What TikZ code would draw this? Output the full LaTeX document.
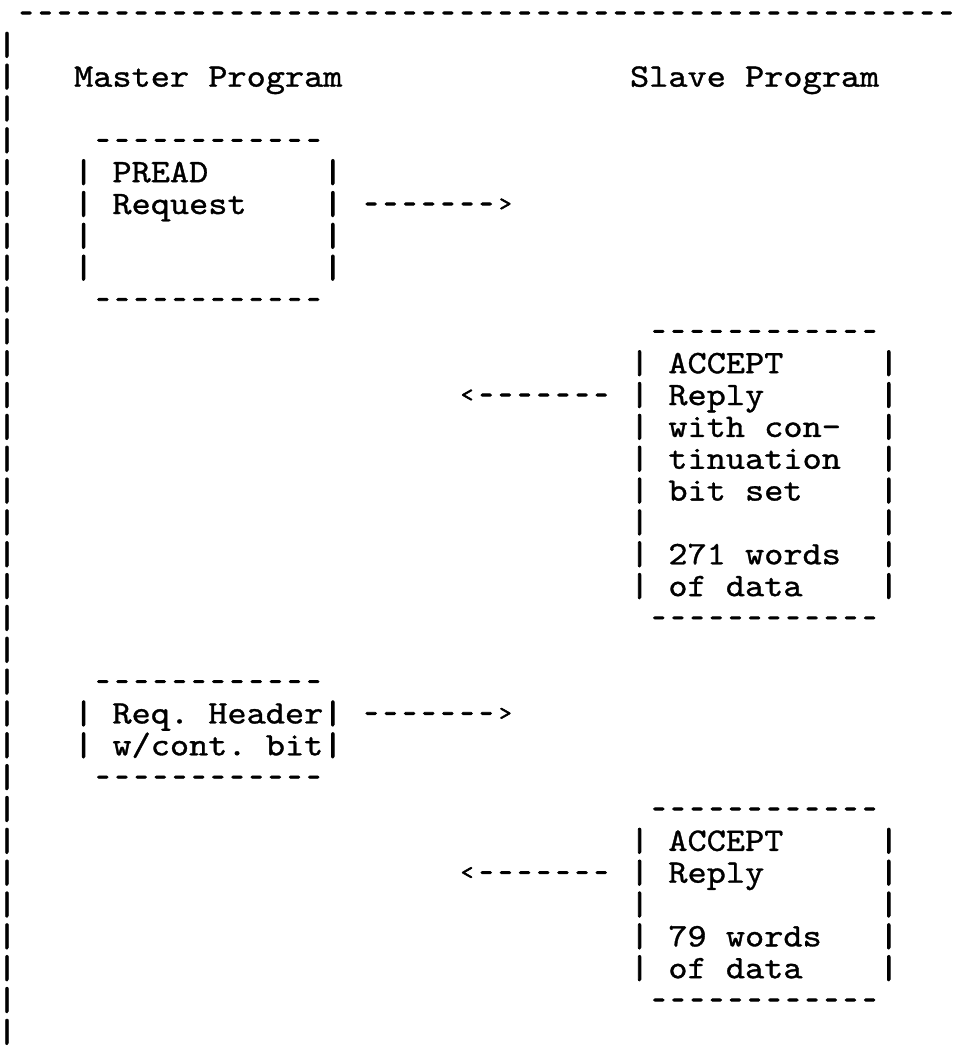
\documentclass[tikz,border=0pt]{standalone}
\usepackage{graphicx}
\usepackage{fontspec}
% typewriter face, widened to a 10-pitch look; no TeX ligatures on mono fonts
\setmonofont{lmmono10-regular.otf}[FakeStretch=1.1133,FakeBold=1]
% same face, heavier, for the rule characters of the frame and boxes
\newfontfamily\ruletype{lmmono10-regular.otf}[FakeStretch=1.1133,FakeBold=2.5]
\newcommand\asciitype{\ttfamily\fontsize{16.4pt}{16.4pt}\selectfont}
\newlength\cellw
\setlength\cellw{9.5855pt}
% printer-style short dash, bar and small chevrons, one character cell each
\newcommand\dashcell{\makebox[\cellw]{\scalebox{0.7}[1]{\ruletype -}}}
\newcommand\barcell{\makebox[\cellw]{\ruletype |}}
\newcommand\rchev{\makebox[\cellw]{\raisebox{1.8pt}{\scalebox{0.65}{\ruletype >}}}}
\newcommand\lchev{\makebox[\cellw]{\raisebox{1.8pt}{\scalebox{0.65}{\ruletype <}}}}
\ExplSyntaxOn
\cs_new:Npn \dashrun #1 { \prg_replicate:nn {#1} { \dashcell } }
\ExplSyntaxOff
\tikzset{ascii/.style={anchor=base west, inner sep=0pt, outer sep=0pt, font=\asciitype}}
% place a string at character column #2, text row #3
\newcommand\glyphs[4]{\node[ascii] (#1) at ({19.17*#2-2.585},{23+31.84*#3}) {#4};}

\begin{document}
\begin{tikzpicture}[x=0.5pt,y=-0.5pt]
\fill[white] (0,0) rectangle (953,1063);
\useasboundingbox (0,0) rectangle (953,1063);

% outer frame: top rule and left side
\glyphs{frameTop}{1}{0}{\dashrun{49}}
\foreach \r in {1,...,32} {\glyphs{frame\r}{0}{\r}{\barcell}}

% column headings
\glyphs{master}{4}{2}{Master Program}
\glyphs{slave}{33}{2}{Slave Program}

% PREAD request box
\glyphs{preadTop}{5}{4}{\dashrun{12}}
\foreach \r in {5,...,8} {\glyphs{preadL\r}{4}{\r}{\barcell}\glyphs{preadR\r}{17}{\r}{\barcell}}
\glyphs{pread}{6}{5}{PREAD}
\glyphs{request}{6}{6}{Request}
\glyphs{preadBot}{5}{9}{\dashrun{12}}
\glyphs{sendA}{19}{6}{\dashrun{7}\rchev}

% first ACCEPT reply box
\glyphs{accATop}{34}{10}{\dashrun{12}}
\foreach \r in {11,...,18} {\glyphs{accAL\r}{33}{\r}{\barcell}\glyphs{accAR\r}{46}{\r}{\barcell}}
\glyphs{acceptA}{35}{11}{ACCEPT}
\glyphs{replyA}{35}{12}{Reply}
\glyphs{withcon}{35}{13}{with con-}
\glyphs{tinuation}{35}{14}{tinuation}
\glyphs{bitset}{35}{15}{bit set}
\glyphs{words271}{35}{17}{271 words}
\glyphs{dataA}{35}{18}{of data}
\glyphs{accABot}{34}{19}{\dashrun{12}}
\glyphs{backA}{24}{12}{\lchev\dashrun{7}}

% request header box
\glyphs{hdrTop}{5}{21}{\dashrun{12}}
\foreach \r in {22,23} {\glyphs{hdrL\r}{4}{\r}{\barcell}\glyphs{hdrR\r}{17}{\r}{\barcell}}
\glyphs{reqhdr}{6}{22}{Req. Header}
\glyphs{contbit}{6}{23}{w/cont. bit}
\glyphs{hdrBot}{5}{24}{\dashrun{12}}
\glyphs{sendB}{19}{22}{\dashrun{7}\rchev}

% second ACCEPT reply box
\glyphs{accBTop}{34}{25}{\dashrun{12}}
\foreach \r in {26,...,30} {\glyphs{accBL\r}{33}{\r}{\barcell}\glyphs{accBR\r}{46}{\r}{\barcell}}
\glyphs{acceptB}{35}{26}{ACCEPT}
\glyphs{replyB}{35}{27}{Reply}
\glyphs{words79}{35}{29}{79 words}
\glyphs{dataB}{35}{30}{of data}
\glyphs{accBBot}{34}{31}{\dashrun{12}}
\glyphs{backB}{24}{27}{\lchev\dashrun{7}}
\end{tikzpicture}
\end{document}
